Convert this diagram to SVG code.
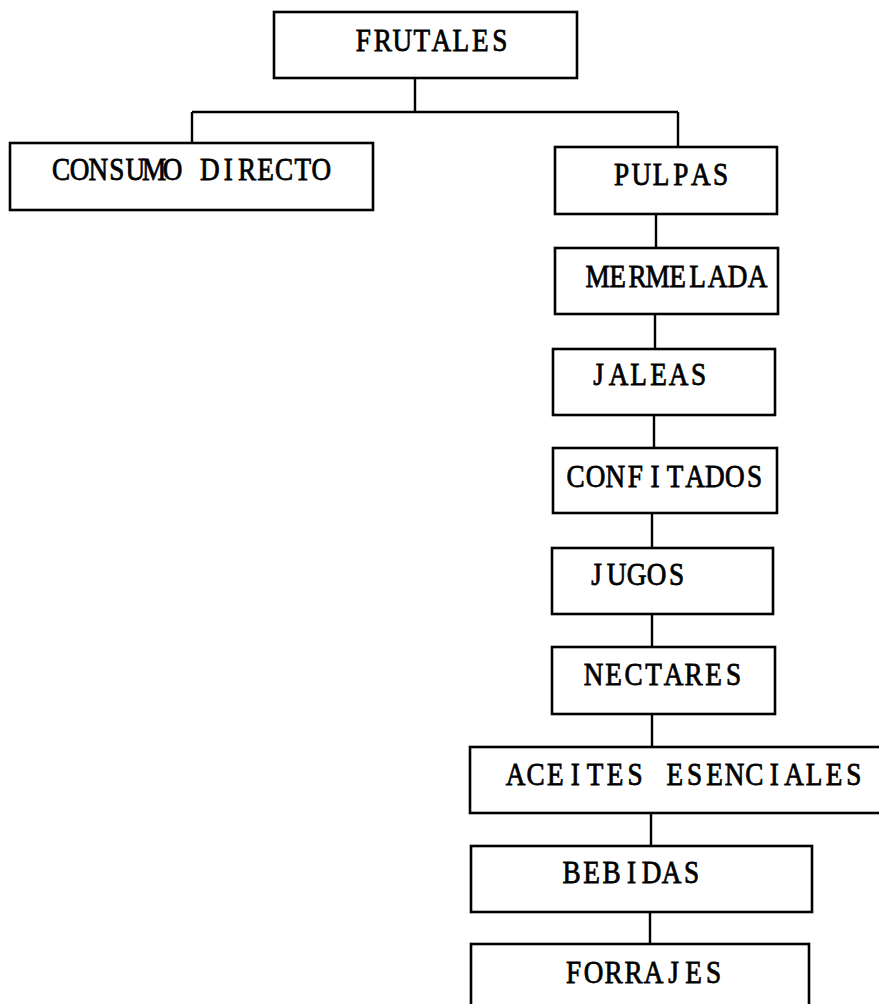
<svg xmlns="http://www.w3.org/2000/svg" width="879" height="1004" viewBox="0 0 879 1004">
<style>
.box{fill:#fff;stroke:#000;stroke-width:2.6}
.lbl{font-family:"Liberation Serif","Times New Roman",serif;font-size:32px;fill:#000;stroke:#000;stroke-width:0.8;text-anchor:middle}
.con{fill:none;stroke:#000;stroke-width:2.4}
</style>
<rect width="879" height="1004" fill="#fff"/>
<g id="connectors">
<path class="con" d="M415 78V112M192 112H678M192 112V143M678 112V147"/>
<path class="con" d="M656 214V248M655 314V349M654 415V448M652 513V548M652 614V647M652 714V747M651 813V846M650 912V944"/>
</g>
<g id="n-frutales"><rect class="box" x="274" y="12" width="303" height="66"/><text class="lbl" transform="translate(363.4 51) scale(0.85 1)" x="0 22.9 45.9 68.8 91.8 114.7 137.6 160.6" y="0">FRUTALES</text></g>
<g id="n-consumo"><rect class="box" x="10" y="143" width="363" height="67"/><text class="lbl" transform="translate(61 180) scale(0.85 1)" x="0 21.9 43.8 65.6 87.5 109.4 131.3 153.2 175 196.9 218.8 240.7 262.6 284.4 306.3 328.2" y="0">CONSUMO DIRECTO</text></g>
<g id="n-pulpas"><rect class="box" x="555" y="147" width="222" height="67"/><text class="lbl" transform="translate(621.5 185) scale(0.85 1)" x="0 23.3 46.6 69.9 93.2 116.5" y="0">PULPAS</text></g>
<g id="n-mermelada"><rect class="box" x="555" y="248" width="223" height="66"/><text class="lbl" transform="translate(597.6 287) scale(0.85 1)" x="0 23.5 47.1 70.6 94.1 117.6 141.2 164.7 188.2" y="0">MERMELADA</text></g>
<g id="n-jaleas"><rect class="box" x="553" y="349" width="222" height="66"/><text class="lbl" transform="translate(598.6 385) scale(0.85 1)" x="0 23.5 47.1 70.6 94.1 117.6" y="0">JALEAS</text></g>
<g id="n-confitados"><rect class="box" x="553" y="448" width="224" height="65"/><text class="lbl" transform="translate(575.6 487) scale(0.85 1)" x="0 23.4 46.8 70.2 93.6 117.1 140.5 163.9 187.3 210.7" y="0">CONFITADOS</text></g>
<g id="n-jugos"><rect class="box" x="552" y="548" width="221" height="66"/><text class="lbl" transform="translate(596.6 585) scale(0.85 1)" x="0 23.5 47.1 70.6 94.1" y="0">JUGOS</text></g>
<g id="n-nectares"><rect class="box" x="552" y="647" width="223" height="67"/><text class="lbl" transform="translate(593.6 685) scale(0.85 1)" x="0 23.5 47.1 70.6 94.1 117.6 141.2 164.7" y="0">NECTARES</text></g>
<g id="n-aceites"><rect class="box" x="470" y="747" width="415" height="66"/><text class="lbl" transform="translate(515.6 785) scale(0.85 1)" x="0 23.4 46.8 70.2 93.6 117.1 140.5 163.9 187.3 210.7 234.1 257.5 280.9 304.3 327.7 351.2 374.6 398" y="0">ACEITES ESENCIALES</text></g>
<g id="n-bebidas"><rect class="box" x="471" y="846" width="341" height="66"/><text class="lbl" transform="translate(571.6 883) scale(0.85 1)" x="0 23.5 47.1 70.6 94.1 117.6 141.2" y="0">BEBIDAS</text></g>
<g id="n-forrajes"><rect class="box" x="471" y="944" width="338" height="70"/><text class="lbl" transform="translate(573.6 983) scale(0.85 1)" x="0 23.5 47.1 70.6 94.1 117.6 141.2 164.7" y="0">FORRAJES</text></g>
</svg>
